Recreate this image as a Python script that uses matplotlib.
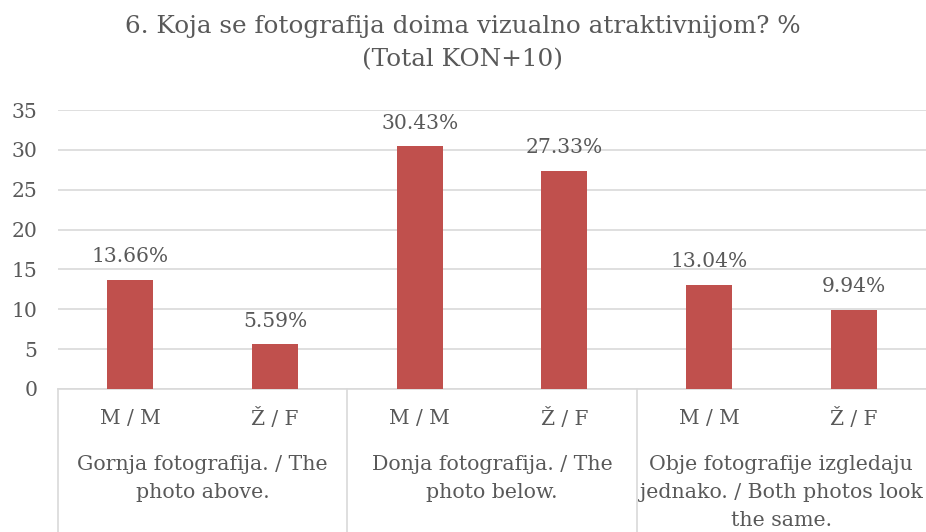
import matplotlib
matplotlib.use("Agg")
import matplotlib.pyplot as plt
import matplotlib.transforms as transforms

# podaci
groups = ["Gornja fotografija. / The\nphoto above.",
          "Donja fotografija. / The\nphoto below.",
          "Obje fotografije izgledaju\njednako. / Both photos look\nthe same."]
sexes = ["M / M", "Ž / F"]
values = [13.66, 5.59, 30.43, 27.33, 13.04, 9.94]
yticks = [0, 5, 10, 15, 20, 25, 30, 35]

TEXT = "#595959"
GRID = "#D9D9D9"
BAR = "#C0504D"

plt.rcParams["font.family"] = ["DejaVu Serif"]

fig = plt.figure(figsize=(9.26, 5.32), dpi=100)
ax = fig.add_axes([58 / 926, 1 - 389 / 532, 1 - 58 / 926, 279 / 532])

x = list(range(len(values)))
ax.bar(x, values, width=0.32, color=BAR, zorder=3)

for xi, v in zip(x, values):
    ax.annotate(f"{v:.2f}%", (xi, v), xytext=(0, 10), textcoords="offset points",
                ha="center", va="bottom", fontsize=14.6, color=TEXT)

ax.set_xlim(-0.5, len(values) - 0.5)
ax.set_ylim(0, 35)
ax.set_yticks(yticks)
ax.set_yticklabels([str(t) for t in yticks], fontsize=14.6, color=TEXT)
ax.tick_params(axis="y", length=0, pad=15)
ax.set_xticks([])
ax.grid(axis="y", color=GRID, linewidth=1.2, zorder=0)
for s in ["top", "right", "left"]:
    ax.spines[s].set_visible(False)
ax.spines["bottom"].set_color(GRID)
ax.spines["bottom"].set_linewidth(1.2)

# višerazinske oznake kategorija
trans = transforms.blended_transform_factory(ax.transData, ax.transAxes)
for xi in x:
    ax.text(xi, -0.107, sexes[xi % 2], transform=trans, ha="center", va="center",
            fontsize=14.5, color=TEXT)
for gi, g in enumerate(groups):
    ax.text(2 * gi + 0.5, -0.235, g, transform=trans, ha="center", va="top",
            fontsize=14.8, color=TEXT, linespacing=1.6)
for xb in [-0.5, 1.5, 3.5]:
    ax.plot([xb, xb], [0, -0.6], transform=trans, color=GRID, linewidth=1.2,
            clip_on=False)

fig.text(0.5, 1 - 43 / 532, "6. Koja se fotografija doima vizualno atraktivnijom? %\n(Total KON+10)",
         ha="center", va="center", fontsize=17.7, color=TEXT, linespacing=1.55)

fig.savefig("out.png", dpi=100)
